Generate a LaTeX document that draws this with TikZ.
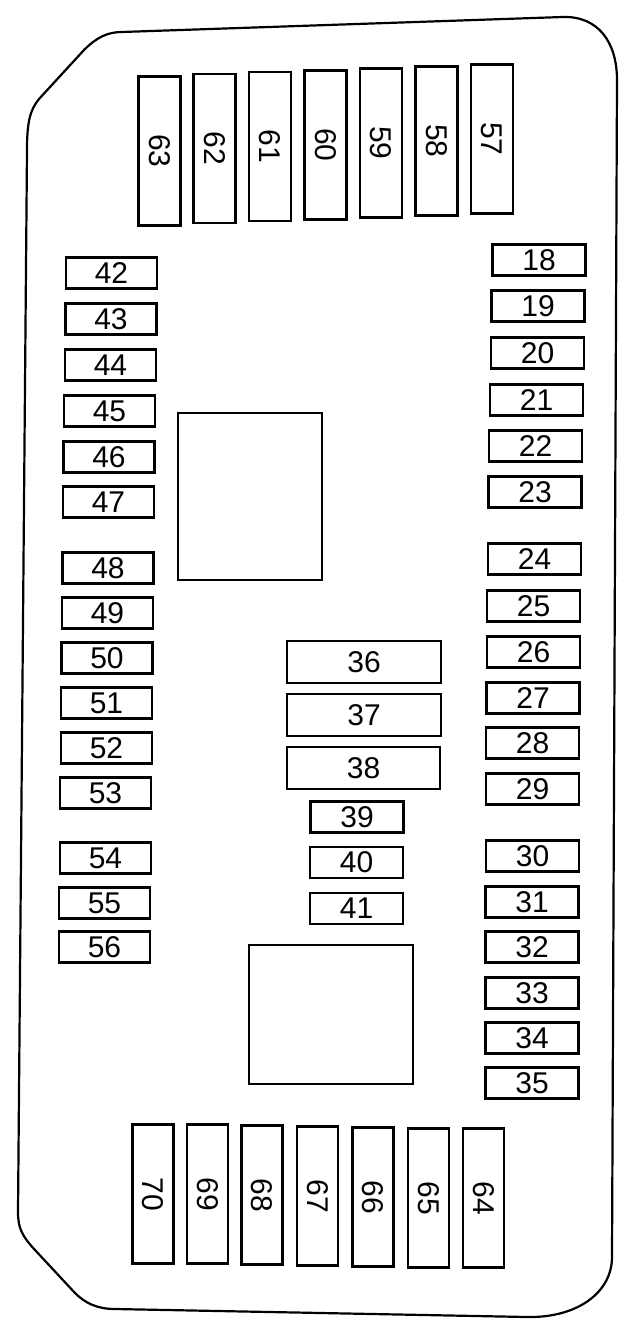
\documentclass[tikz,border=0pt]{standalone}
\usepackage{fontspec}
\setmainfont{Liberation Sans}
\begin{document}
\begin{tikzpicture}[x=1pt,y=-1pt,
  fuse/.style={draw=black, line width=2.6pt, inner sep=0pt, fill=white, font=\fontsize{30}{30}\selectfont},
  hfuse/.style={fuse, minimum width=91pt, minimum height=31pt},
  rfuse/.style={fuse, minimum width=93pt, minimum height=31pt},
  vfuse/.style={fuse, minimum width=42pt, minimum height=149pt},
  bfuse/.style={fuse, minimum width=41pt, minimum height=139pt},
  relay/.style={draw=black, line width=2.6pt, inner sep=0pt},
  outline/.style={draw=black, line width=2.2pt}]
\useasboundingbox (0,0) rectangle (640,1337);
\fill[white] (0,0) rectangle (640,1337);
% housing outline
\draw[outline] (27,150) .. controls (27,122) and (30,110) .. (39,99)
  -- (84,50) .. controls (97,37) and (108,32) .. (122,32)
  -- (563,17) .. controls (598,16) and (617,42) .. (617,80)
  -- (612,1257) .. controls (612,1292) and (578,1318) .. (527,1317)
  -- (115,1309) .. controls (97,1309) and (85,1303) .. (75,1293)
  -- (35,1250) .. controls (22,1236) and (18,1228) .. (18,1212)
  -- cycle;
% top row
\foreach \n/\x/\y in {63/159.5/151, 62/214.5/148.5, 61/270/146.5, 60/325.5/145, 59/381/143, 58/436.5/141, 57/492/139}
  \node[vfuse] (f\n) at (\x,\y) {\rotatebox{-90}{\n}};
% left column
\foreach \n/\x/\y in {42/111.5/273, 43/111/319, 44/110.5/365, 45/109.5/411, 46/109/457, 47/108.5/502, 48/108/568, 49/107.5/613, 50/107/658, 51/106.5/703, 52/106.5/748, 53/105.5/793, 54/105.5/858, 55/104.5/903, 56/104.5/947}
  \node[hfuse] (f\n) at (\x,\y) {\n};
% right column
\foreach \n/\x/\y in {18/539/260, 19/538/306, 20/537.5/353, 21/536.5/400, 22/535.5/446, 23/535/492, 24/534.5/559, 25/533.5/606, 26/533.5/652, 27/533/698, 28/532.5/743, 29/532.5/789, 30/532.5/856, 31/532/902, 32/532/947, 33/532/993, 34/532/1038, 35/532/1083}
  \node[rfuse] (f\n) at (\x,\y) {\n};
% centre
\node[relay, minimum width=144pt, minimum height=167pt] (r1) at (250,496.5) {};
\node[fuse, minimum width=154pt, minimum height=42pt] (f36) at (364,662) {36};
\node[fuse, minimum width=154pt, minimum height=42pt] (f37) at (364,715) {37};
\node[fuse, minimum width=153pt, minimum height=42pt] (f38) at (363.5,768) {38};
\node[fuse, minimum width=93pt, minimum height=31pt] (f39) at (357,817) {39};
\node[fuse, minimum width=93pt, minimum height=31pt] (f40) at (356.5,862.5) {40};
\node[fuse, minimum width=93pt, minimum height=31pt] (f41) at (356.5,908.5) {41};
\node[relay, minimum width=164pt, minimum height=139pt] (r2) at (331,1014.5) {};
% bottom row
\foreach \n/\x/\y in {70/153/1194, 69/207.5/1194, 68/262/1195, 67/317.5/1196, 66/373/1197, 65/428.5/1198, 64/483.5/1198}
  \node[bfuse] (f\n) at (\x,\y) {\rotatebox{-90}{\n}};
\end{tikzpicture}
\end{document}
